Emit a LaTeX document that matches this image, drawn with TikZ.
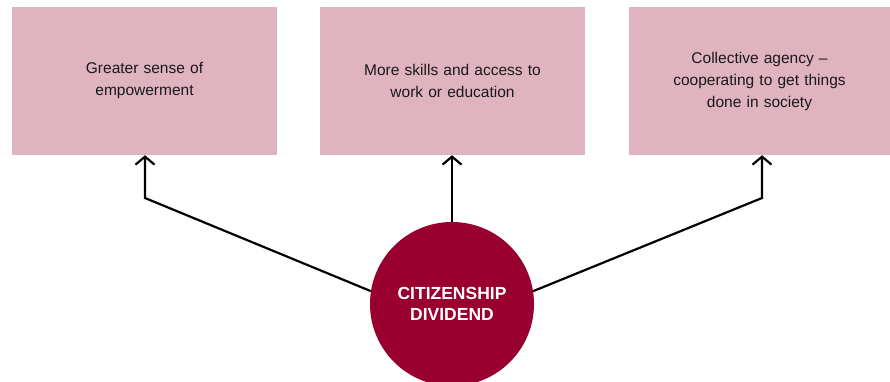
\documentclass[tikz,border=0pt]{standalone}
\usepackage{fontspec}
\setmainfont{Liberation Sans}
\usetikzlibrary{arrows.meta}
\definecolor{boxpink}{HTML}{DFB3BF}
\definecolor{wine}{HTML}{990030}
\begin{document}
\begin{tikzpicture}[x=1pt,y=-1pt,
  outbox/.style={fill=boxpink, draw=none, minimum width=265pt, minimum height=148pt, inner sep=0pt,
    align=center, text width=220pt, font=\fontsize{15.5}{22}\selectfont, text=black!90},
  hub/.style={circle, fill=wine, draw=none, minimum size=164pt, inner sep=0pt, align=center,
    text=white, font=\fontsize{17.5}{21}\selectfont\bfseries},
  conn/.style={line width=2.2pt, -{Straight Barb[length=8pt,width=19pt,line width=2.2pt]}}]
\useasboundingbox (0,0) rectangle (890,382);
\begin{scope}
\clip (0,0) rectangle (890,382);
\node[outbox] (b1) at (144.5,81) {Greater sense of\\empowerment};
\node[outbox] (b2) at (452.5,81) {More skills and access to\\work or education};
\node[outbox, minimum width=261pt] (b3) at (759.5,81) {Collective agency –\\cooperating to get things\\done in society};
\node[hub] (c) at (452,304) {CITIZENSHIP\\DIVIDEND};
\coordinate (k1) at (145,198);
\coordinate (k3) at (762,198);
\draw[conn] (c.171) -- (k1) -- (k1 |- b1.south);
\draw[conn] (c.north) -- (c.north |- b2.south);
\draw[conn] (c.9) -- (k3) -- (k3 |- b3.south);
\end{scope}
\end{tikzpicture}
\end{document}
